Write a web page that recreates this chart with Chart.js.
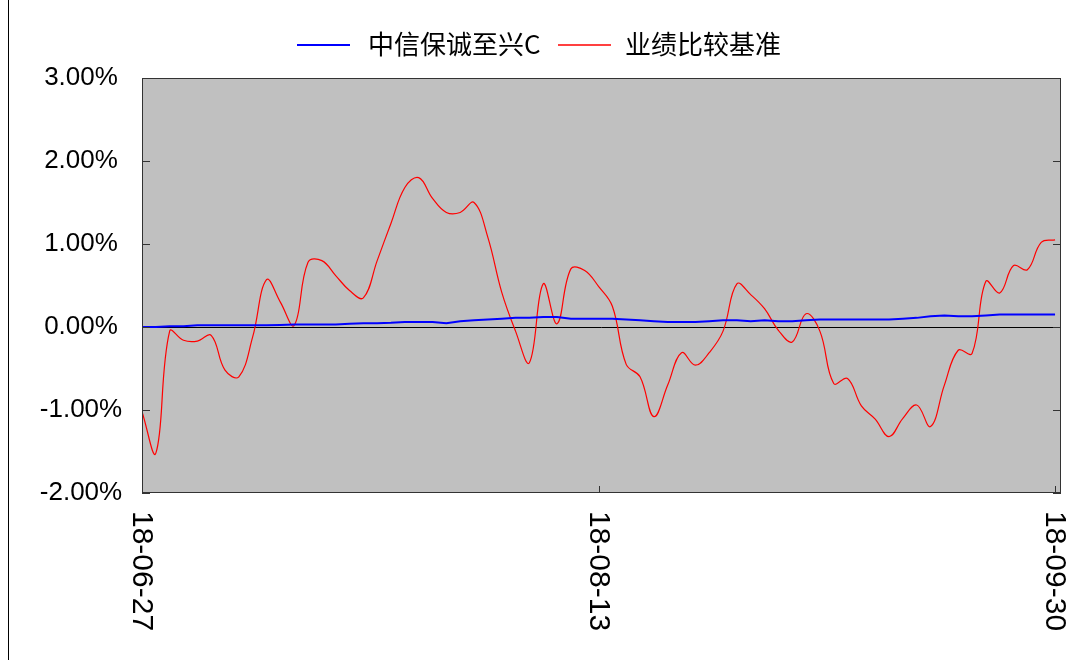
<!DOCTYPE html>
<html>
<head>
<meta charset="utf-8">
<script src="https://cdn.jsdelivr.net/npm/chart.js@4.4.0/dist/chart.umd.min.js"></script>
<style>
html, body { margin: 0; padding: 0; background: #fff; }
canvas { display: block; }
</style>
</head>
<body>
<canvas id="chart" width="1084" height="660"></canvas>
<script>
// trading days shown on the x axis
var dates = [
  '18-06-27', '18-06-28', '18-06-29',
  '18-07-02', '18-07-03', '18-07-04', '18-07-05', '18-07-06', '18-07-09', '18-07-10', '18-07-11',
  '18-07-12', '18-07-13', '18-07-16', '18-07-17', '18-07-18', '18-07-19', '18-07-20', '18-07-23',
  '18-07-24', '18-07-25', '18-07-26', '18-07-27', '18-07-30', '18-07-31',
  '18-08-01', '18-08-02', '18-08-03', '18-08-06', '18-08-07', '18-08-08', '18-08-09', '18-08-10',
  '18-08-13', '18-08-14', '18-08-15', '18-08-16', '18-08-17', '18-08-20', '18-08-21', '18-08-22',
  '18-08-23', '18-08-24', '18-08-27', '18-08-28', '18-08-29', '18-08-30', '18-08-31',
  '18-09-03', '18-09-04', '18-09-05', '18-09-06', '18-09-07', '18-09-10', '18-09-11', '18-09-12',
  '18-09-13', '18-09-14', '18-09-17', '18-09-18', '18-09-19', '18-09-20', '18-09-21', '18-09-25',
  '18-09-26', '18-09-27', '18-09-30'
];

var seriesNames = ['中信保诚至兴C', '业绩比较基准'];

// cumulative return, %
var fundReturn = [
  0.00, 0.00, 0.01, 0.01, 0.02, 0.02, 0.02, 0.02, 0.02, 0.02,
  0.025, 0.03, 0.03, 0.03, 0.03, 0.04, 0.045, 0.045, 0.05, 0.06,
  0.06, 0.06, 0.045, 0.07, 0.08, 0.09, 0.10, 0.11, 0.11, 0.12,
  0.12, 0.10, 0.10, 0.10, 0.10, 0.09, 0.08, 0.07, 0.06, 0.06,
  0.06, 0.07, 0.08, 0.08, 0.07, 0.08, 0.07, 0.07, 0.08, 0.09,
  0.09, 0.09, 0.09, 0.09, 0.09, 0.10, 0.11, 0.13, 0.14, 0.13,
  0.13, 0.14, 0.15, 0.15, 0.15, 0.15, 0.15
];

var benchReturn = [
  -1.02, -1.52, -0.05, -0.16, -0.17, -0.10, -0.52, -0.60, -0.12, 0.57,
  0.30, 0.02, 0.78, 0.80, 0.62, 0.44, 0.35, 0.80, 1.25, 1.68,
  1.80, 1.55, 1.38, 1.38, 1.50, 1.08, 0.42, -0.05, -0.43, 0.52,
  0.04, 0.70, 0.68, 0.49, 0.25, -0.45, -0.60, -1.08, -0.70, -0.31,
  -0.46, -0.31, -0.05, 0.52, 0.39, 0.22, -0.04, -0.18, 0.16, -0.05,
  -0.68, -0.62, -0.95, -1.11, -1.32, -1.10, -0.94, -1.20, -0.70, -0.28,
  -0.32, 0.55, 0.41, 0.74, 0.69, 1.02, 1.05
];

var yTicks = [3, 2, 1, 0, -1, -2];
var xTickIndex = [0, 33, 66];

function toPoints(values) {
  return values.map(function(v, i) { return {x: i, y: v}; });
}

var framePlugin = {
  id: 'frame',
  beforeDraw: function(chart) {
    var ctx = chart.ctx, a = chart.chartArea;
    ctx.save();
    ctx.fillStyle = '#ffffff';
    ctx.fillRect(0, 0, chart.width, chart.height);
    ctx.fillStyle = '#c0c0c0';
    ctx.fillRect(a.left, a.top, a.right - a.left, a.bottom - a.top);
    // outer left rule
    ctx.strokeStyle = '#000';
    ctx.lineWidth = 1;
    ctx.beginPath();
    ctx.moveTo(8.5, 0);
    ctx.lineTo(8.5, chart.height);
    ctx.stroke();
    ctx.restore();
  },
  beforeDatasetsDraw: function(chart) {
    var ctx = chart.ctx, a = chart.chartArea;
    var y0 = Math.round(chart.scales.y.getPixelForValue(0)) + 0.5;
    ctx.save();
    ctx.strokeStyle = '#000';
    ctx.lineWidth = 1;
    ctx.beginPath();
    ctx.moveTo(a.left, y0);
    ctx.lineTo(a.right, y0);
    ctx.stroke();
    ctx.restore();
  },
  afterDraw: function(chart) {
    var ctx = chart.ctx, a = chart.chartArea;
    var xs = chart.scales.x, ys = chart.scales.y;
    ctx.save();
    // plot border
    ctx.strokeStyle = '#333';
    ctx.lineWidth = 1;
    ctx.strokeRect(a.left + 0.5, a.top + 0.5, a.right - a.left - 1, a.bottom - a.top - 1);

    // y ticks and labels
    ctx.fillStyle = '#000';
    ctx.font = '26px "Liberation Sans", Arial, sans-serif';
    ctx.textAlign = 'center';
    ctx.textBaseline = 'middle';
    yTicks.forEach(function(v) {
      var y = Math.round(ys.getPixelForValue(v)) + 0.5;
      ctx.beginPath();
      ctx.moveTo(a.left, y); ctx.lineTo(a.left + 8, y);
      ctx.moveTo(a.right, y); ctx.lineTo(a.right - 8, y);
      ctx.stroke();
      ctx.fillText(v.toFixed(2) + '%', 81, y - 1);
    });

    // x ticks and rotated labels
    ctx.font = '30px "Liberation Sans", Arial, sans-serif';
    ctx.textAlign = 'left';
    xTickIndex.forEach(function(i) {
      var x = Math.round(xs.getPixelForValue(i)) + 0.5;
      ctx.beginPath();
      ctx.moveTo(x, a.bottom); ctx.lineTo(x, a.bottom - 7);
      ctx.stroke();
      ctx.save();
      ctx.translate(x - 1, a.bottom + 18);
      ctx.rotate(Math.PI / 2);
      ctx.fillText(dates[i], 0, 0);
      ctx.restore();
    });

    // legend
    var colors = ['#0000ff', '#ff0000'];
    var lineX = [297, 558];
    var textX = [368, 625];
    ctx.font = '26px "Noto Sans CJK SC", sans-serif';
    seriesNames.forEach(function(name, k) {
      ctx.strokeStyle = colors[k];
      ctx.lineWidth = k === 0 ? 2 : 1.5;
      ctx.beginPath();
      ctx.moveTo(lineX[k], 45); ctx.lineTo(lineX[k] + 53, 45);
      ctx.stroke();
      ctx.fillStyle = '#000';
      ctx.fillText(name, textX[k], 44);
    });
    ctx.restore();
  }
};

var ctx = document.getElementById('chart').getContext('2d');
var chart = new Chart(ctx, {
  type: 'line',
  data: {
    datasets: [{
      label: seriesNames[0],
      data: toPoints(fundReturn),
      borderColor: '#0000ff',
      borderWidth: 2,
      pointRadius: 0,
      tension: 0
    }, {
      label: seriesNames[1],
      data: toPoints(benchReturn),
      borderColor: '#ff0000',
      borderWidth: 1.2,
      pointRadius: 0,
      tension: 0.4
    }]
  },
  options: {
    responsive: false,
    animation: false,
    devicePixelRatio: 1,
    layout: { padding: { left: 142, right: 23, top: 78, bottom: 167 } },
    plugins: {
      legend: { display: false },
      tooltip: { enabled: false }
    },
    scales: {
      x: { type: 'linear', display: false, min: 0, max: 66.43 },
      y: { type: 'linear', display: false, min: -2, max: 3 }
    }
  },
  plugins: [framePlugin]
});
</script>
</body>
</html>
